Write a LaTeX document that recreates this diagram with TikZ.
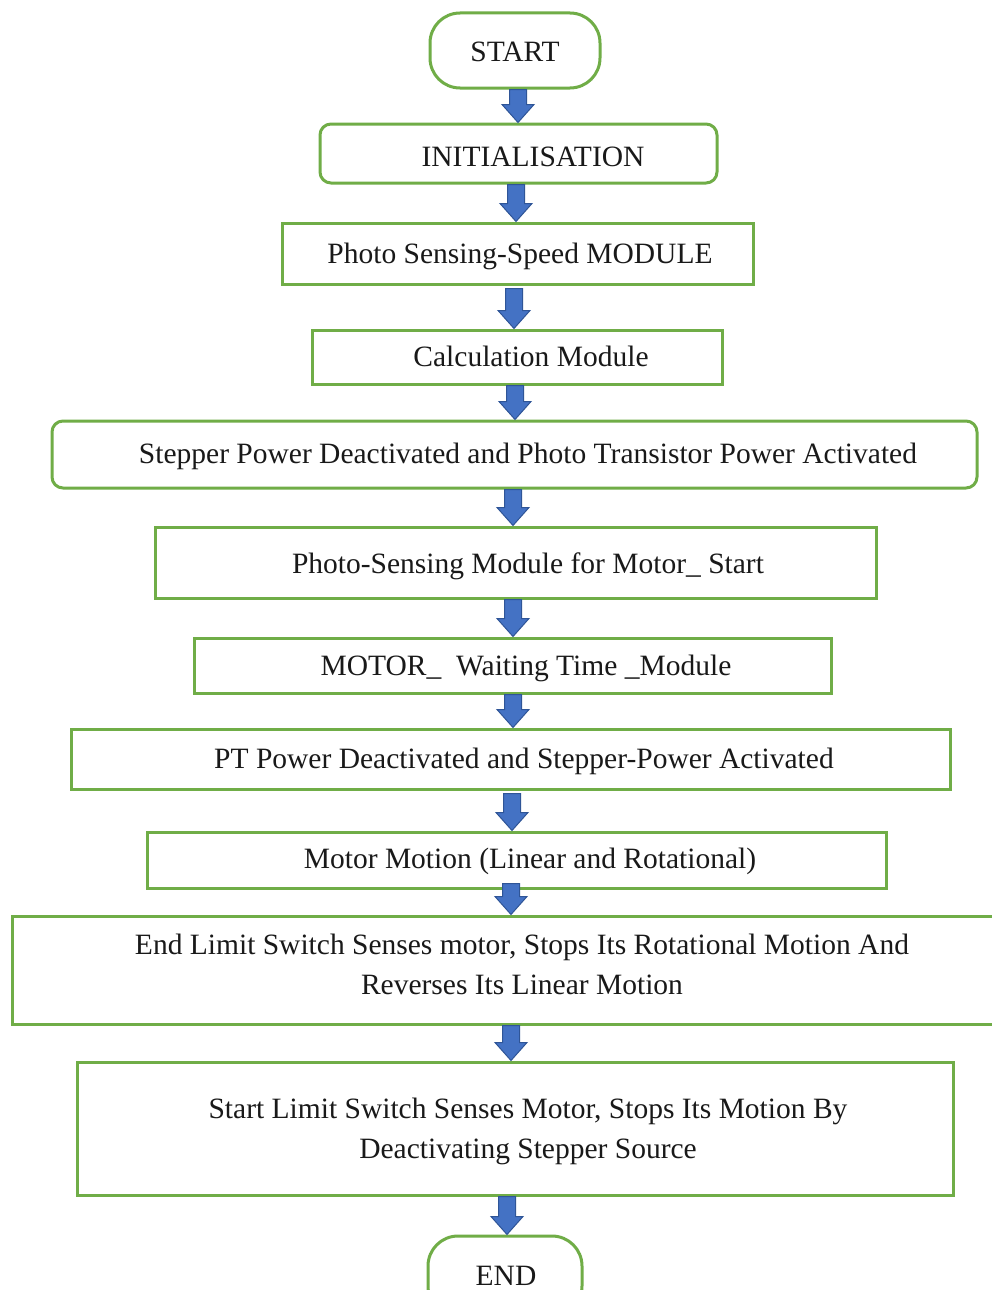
\documentclass[tikz,border=0pt]{standalone}
\usepackage{fontspec}
\setmainfont{Liberation Serif}
\usetikzlibrary{calc}
\definecolor{boxgreen}{HTML}{70AD47}
\definecolor{arrfill}{HTML}{4472C4}
\definecolor{arrline}{HTML}{2F5597}
\tikzset{
  box/.style={draw=boxgreen, line width=3pt, fill=white, inner sep=0pt},
  roundbox/.style={box, rounded corners=11pt},
  pillbox/.style={box, rounded corners=30pt},
  txt/.style={font=\fontsize{29.5}{41}\selectfont, text=black!90, inner sep=0pt, anchor=base},
  txtml/.style={font=\fontsize{29.5}{40}\selectfont, text=black!90, inner sep=0pt, align=center, anchor=center},
  barrowstyle/.style={fill=arrfill, draw=arrline, line width=1pt, line join=miter}
}
% block arrow: x position, from node, to node, shift of shaft top
\newcommand\barrow[4]{%
  \path[barrowstyle] let \p1=(#2.south), \p2=(#3.north) in
    (#1pt-8.5pt,\y1+#4pt) -- (#1pt+8.5pt,\y1+#4pt) -- (#1pt+8.5pt,\y2+18pt) --
    (#1pt+16pt,\y2+18pt) -- (#1pt,\y2) -- (#1pt-16pt,\y2+18pt) --
    (#1pt-8.5pt,\y2+18pt) -- cycle;}
\begin{document}
\begin{tikzpicture}[x=1pt,y=-1pt]
\useasboundingbox (0,0) rectangle (992,1290);
\fill[white] (0,0) rectangle (992,1290);
\clip (0,0) rectangle (992,1290);

% boxes
\node[pillbox, minimum width=170pt, minimum height=75pt] (b1) at (515,50.5) {};
\node[roundbox, minimum width=397pt, minimum height=59pt] (b2) at (518.5,153.5) {};
\node[box, minimum width=471pt, minimum height=61pt] (b3) at (517.5,253.5) {};
\node[box, minimum width=410pt, minimum height=54pt] (b4) at (517,357) {};
\node[roundbox, minimum width=925pt, minimum height=67pt] (b5) at (514.5,454.5) {};
\node[box, minimum width=721pt, minimum height=71pt] (b6) at (515.5,562.5) {};
\node[box, minimum width=637pt, minimum height=55pt] (b7) at (512.5,665.5) {};
\node[box, minimum width=879pt, minimum height=60pt] (b8) at (510.5,759) {};
\node[box, minimum width=739pt, minimum height=56pt] (b9) at (516.5,860) {};
\node[box, minimum width=993pt, minimum height=108pt] (b10) at (508.5,970) {};
\node[box, minimum width=876pt, minimum height=133pt] (b11) at (515,1128.5) {};
\node[pillbox, minimum width=154pt, minimum height=80pt] (b12) at (505,1276) {};

% texts
\node[txt] (t1) at (515,62) {START};
\node[txt] (t2) at (533,166) {INITIALISATION};
\node[txt] (t3) at (520,263) {Photo Sensing-Speed MODULE};
\node[txt] (t4) at (531,366) {Calculation Module};
\node[txt] (t5) at (528,463) {Stepper Power Deactivated and Photo Transistor Power Activated};
\node[txt] (t6) at (528,573) {Photo-Sensing Module for Motor\_ Start};
\node[txt] (t7) at (526,675) {MOTOR\_ \ Waiting Time \_Module};
\node[txt] (t8) at (524,768) {PT Power Deactivated and Stepper-Power Activated};
\node[txt] (t9) at (530,868) {Motor Motion (Linear and Rotational)};
\node[txtml] (t10) at (522,964.5) {End Limit Switch Senses motor, Stops Its Rotational Motion And\\Reverses Its Linear Motion};
\node[txtml] (t11) at (528,1131.5) {Start Limit Switch Senses Motor, Stops Its Motion By\\Deactivating Stepper Source};
\node[txt] (t12) at (506,1285) {END};

% arrows
\barrow{518}{b1}{b2}{0}
\barrow{516}{b2}{b3}{0}
\barrow{514}{b3}{b4}{-3}
\barrow{515}{b4}{b5}{0}
\barrow{513}{b5}{b6}{0}
\barrow{513}{b6}{b7}{0}
\barrow{513}{b7}{b8}{0}
\barrow{512}{b8}{b9}{-3}
\barrow{511}{b9}{b10}{6}
\barrow{511}{b10}{b11}{0}
\barrow{507}{b11}{b12}{0}
\end{tikzpicture}
\end{document}
